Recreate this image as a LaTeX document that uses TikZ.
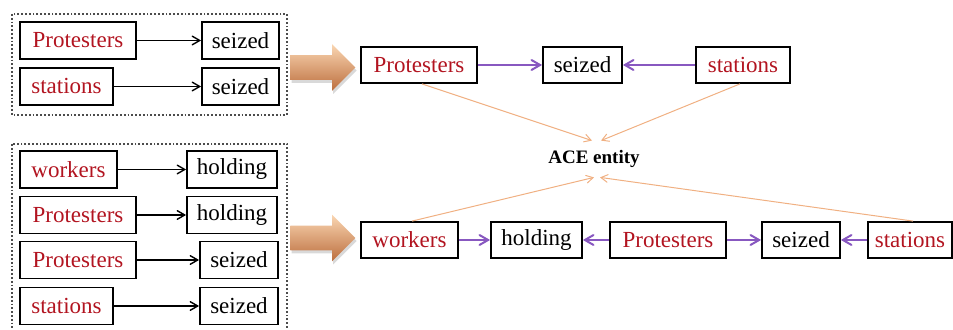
\documentclass[tikz,border=0pt]{standalone}
\usepackage{fontspec}
\setmainfont{Liberation Serif}
\usepackage{xcolor}
\usepackage{tikz}
\usetikzlibrary{arrows}
\usetikzlibrary{shapes.arrows}
\usetikzlibrary{shadows}

\definecolor{entred}{RGB}{178,20,32}
\definecolor{relpurple}{RGB}{136,88,192}
\definecolor{aceorange}{RGB}{240,176,130}

\begin{document}
\begin{tikzpicture}[x=0.5pt,y=-0.5pt,>=angle 60,
	box/.style={draw,line width=0.9pt,minimum height=18.5pt,inner sep=0pt,font=\fontsize{11.5}{14}\selectfont},
	ent/.style={box,text=entred},
	word/.style={box,text=black},
	groupbox/.style={densely dotted,line width=0.9pt,draw=black!70},
	linkarrow/.style={->,line width=0.7pt},
	relarrow/.style={->,line width=1pt,draw=relpurple},
	acearrow/.style={->,line width=0.5pt,draw=aceorange},
	bigarrow/.style={single arrow,anchor=tail,minimum height=32.5pt,inner xsep=0pt,inner ysep=6pt,
		single arrow head extend=5.5pt,
		top color={rgb,255:red,250;green,214;blue,178},middle color={rgb,255:red,230;green,150;blue,98},
		bottom color={rgb,255:red,188;green,110;blue,62},
		drop shadow={opacity=0.3,shadow xshift=0.6pt,shadow yshift=-1.5pt}}]
	\useasboundingbox (0,0) rectangle (953,330);
	\draw[groupbox] (12,14) rectangle (287,115);
	\draw[groupbox] (12,144) rectangle (287,334);
	\node (prot1) [ent,minimum width=58pt] at (78,40.5) {Protesters};
	\node (seiz1) [word,minimum width=38.5pt] at (240.5,40.5) {seized};
	\node (stat1) [ent,minimum width=46.5pt] at (66.5,86.5) {stations};
	\node (seiz2) [word,minimum width=38.5pt] at (240.5,86.5) {seized};
	\node (work1) [ent,minimum width=48.5pt] at (68.5,169.5) {workers};
	\node (hold1) [word,minimum width=45pt] at (232,169.5) {holding};
	\node (prot2) [ent,minimum width=58pt] at (78,215) {Protesters};
	\node (hold2) [word,minimum width=45pt] at (232,215) {holding};
	\node (prot3) [ent,minimum width=58pt] at (78,260) {Protesters};
	\node (seiz3) [word,minimum width=39pt] at (239,260) {seized};
	\node (stat2) [ent,minimum width=46.5pt] at (66.5,306) {stations};
	\node (seiz4) [word,minimum width=39pt] at (239,306) {seized};
	\draw[linkarrow] (prot1) -- (seiz1);
	\draw[linkarrow] (stat1) -- (seiz2);
	\draw[linkarrow] (work1) -- (hold1);
	\draw[linkarrow] (prot2) -- (hold2);
	\draw[linkarrow] (prot3) -- (seiz3);
	\draw[linkarrow] (stat2) -- (seiz4);
	\node (bigarr1) [bigarrow] at (290,67.5) {};
	\node (bigarr2) [bigarrow] at (290,238) {};
	\node (prot4) [ent,minimum width=58pt,minimum height=18pt] at (419,65) {Protesters};
	\node (seiz5) [word,minimum width=39.5pt,minimum height=18pt] at (582.5,65) {seized};
	\node (stat3) [ent,minimum width=47pt,minimum height=18pt] at (743,65) {stations};
	\node (ace) [font=\bfseries\fontsize{9.5}{11}\selectfont,minimum height=18pt,inner sep=0pt] at (594,159) {ACE entity};
	\node (work2) [ent,minimum width=48.5pt,minimum height=18pt] at (409.5,240) {workers};
	\node (hold3) [word,minimum width=45.5pt,minimum height=18pt] at (536.5,240) {holding};
	\node (prot5) [ent,minimum width=58pt,minimum height=18pt] at (668,240) {Protesters};
	\node (seiz6) [word,minimum width=39pt,minimum height=18pt] at (801,240) {seized};
	\node (stat4) [ent,minimum width=42pt,minimum height=18pt] at (910,240) {stations};
	\draw[relarrow] (prot4) -- (seiz5);
	\draw[relarrow] (stat3) -- (seiz5);
	\draw[relarrow] (work2) -- (hold3);
	\draw[relarrow] (prot5) -- (hold3);
	\draw[relarrow] (prot5) -- (seiz6);
	\draw[relarrow] (stat4) -- (seiz6);
	\draw[acearrow] ([xshift=1.5pt]prot4.south) -- ([xshift=-1pt]ace.north);
	\draw[acearrow] ([xshift=-1.5pt]stat3.south) -- ([xshift=3.5pt]ace.north);
	\draw[acearrow] ([xshift=1.25pt]work2.north) -- (ace.south);
	\draw[acearrow] ([xshift=1.5pt]stat4.north) -- ([xshift=3pt]ace.south);
\end{tikzpicture}
\end{document}
